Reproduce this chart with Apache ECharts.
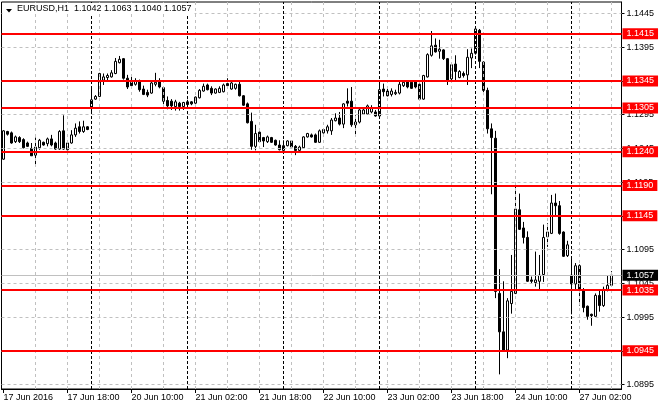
<!DOCTYPE html>
<html><head><meta charset="utf-8">
<script src="https://cdn.jsdelivr.net/npm/echarts@6.0.0/dist/echarts.min.js"></script>
<style>html,body{margin:0;padding:0;background:#fff}#c{width:660px;height:410px}</style>
</head><body><div id="c"></div>
<script>
const FONT = 'Liberation Sans';
const symbolName = 'EURUSD,H1';
const dayNames = ['17 Jun', '20 Jun', '21 Jun', '22 Jun', '23 Jun', '24 Jun', '27 Jun'];
const firstHour = [2, 0, 0, 0, 0, 0, 0];
// each bar: [open, high, low, close]
const day17 = [
 [1.1229,1.1272,1.1228,1.1271],[1.1270,1.1271,1.1264,1.1266],[1.1268,1.1270,1.1252,1.1253],[1.1255,1.1264,1.1253,1.1262],
 [1.1261,1.1263,1.1253,1.1255],[1.1258,1.1260,1.1245,1.1246],[1.1253,1.1255,1.1247,1.1248],[1.1245,1.1253,1.1234,1.1234],
 [1.1235,1.1261,1.1221,1.1247],[1.1246,1.1259,1.1243,1.1257],[1.1254,1.1255,1.1249,1.1250],[1.1252,1.1261,1.1248,1.1259],
 [1.1259,1.1265,1.1248,1.1250],[1.1253,1.1255,1.1243,1.1244],[1.1244,1.1272,1.1243,1.1270],[1.1271,1.1294,1.1243,1.1244],
 [1.1243,1.1255,1.1242,1.1253],[1.1253,1.1272,1.1252,1.1265],[1.1265,1.1282,1.1262,1.1275],[1.1277,1.1285,1.1267,1.1270],
 [1.1270,1.1286,1.1268,1.1277],[1.1277,1.1278,1.1272,1.1273]
];
const day20 = [
 [1.1306,1.1337,1.1300,1.1317],[1.1318,1.1324,1.1317,1.1322],[1.1322,1.1357,1.1321,1.1356],[1.1346,1.1356,1.1339,1.1351],
 [1.1350,1.1356,1.1346,1.1353],[1.1351,1.1361,1.1350,1.1357],[1.1356,1.1379,1.1355,1.1374],[1.1372,1.1382,1.1371,1.1377],
 [1.1378,1.1379,1.1347,1.1349],[1.1349,1.1354,1.1333,1.1336],[1.1343,1.1354,1.1336,1.1338],[1.1340,1.1349,1.1338,1.1345],
 [1.1344,1.1347,1.1329,1.1332],[1.1333,1.1338,1.1324,1.1325],[1.1328,1.1332,1.1321,1.1324],[1.1327,1.1344,1.1326,1.1342],
 [1.1340,1.1357,1.1337,1.1343],[1.1345,1.1349,1.1334,1.1336],[1.1335,1.1337,1.1307,1.1315],[1.1316,1.1322,1.1303,1.1308],
 [1.1315,1.1318,1.1302,1.1308],[1.1307,1.1317,1.1301,1.1314],[1.1312,1.1314,1.1301,1.1307],[1.1307,1.1314,1.1302,1.1313]
];
const day21 = [
 [1.1314,1.1317,1.1304,1.1310],[1.1314,1.1315,1.1309,1.1311],[1.1312,1.1322,1.1311,1.1321],[1.1320,1.1333,1.1319,1.1331],
 [1.1330,1.1341,1.1329,1.1337],[1.1339,1.1341,1.1331,1.1332],[1.1334,1.1337,1.1324,1.1327],[1.1327,1.1334,1.1326,1.1333],
 [1.1328,1.1337,1.1327,1.1334],[1.1329,1.1341,1.1328,1.1339],[1.1341,1.1349,1.1337,1.1338],[1.1333,1.1344,1.1332,1.1342],
 [1.1334,1.1341,1.1332,1.1340],[1.1340,1.1344,1.1322,1.1323],[1.1323,1.1324,1.1308,1.1309],[1.1311,1.1313,1.1282,1.1283],
 [1.1285,1.1298,1.1243,1.1248],[1.1248,1.1280,1.1242,1.1267],[1.1269,1.1270,1.1254,1.1255],[1.1261,1.1262,1.1247,1.1256],
 [1.1255,1.1264,1.1253,1.1262],[1.1261,1.1262,1.1253,1.1254],[1.1257,1.1258,1.1249,1.1250],[1.1250,1.1257,1.1242,1.1243]
];
const day22 = [
 [1.1242,1.1257,1.1240,1.1249],[1.1249,1.1257,1.1248,1.1256],[1.1256,1.1257,1.1245,1.1247],[1.1248,1.1250,1.1235,1.1242],
 [1.1242,1.1249,1.1240,1.1247],[1.1246,1.1263,1.1245,1.1262],[1.1262,1.1268,1.1261,1.1267],[1.1265,1.1267,1.1261,1.1262],
 [1.1265,1.1267,1.1253,1.1254],[1.1254,1.1273,1.1253,1.1271],[1.1268,1.1275,1.1267,1.1273],[1.1271,1.1280,1.1267,1.1277],
 [1.1271,1.1290,1.1265,1.1287],[1.1286,1.1297,1.1285,1.1290],[1.1290,1.1299,1.1279,1.1281],[1.1281,1.1312,1.1275,1.1311],
 [1.1315,1.1334,1.1307,1.1312],[1.1315,1.1336,1.1277,1.1280],[1.1284,1.1294,1.1266,1.1280],[1.1284,1.1304,1.1282,1.1302],
 [1.1296,1.1305,1.1295,1.1302],[1.1296,1.1310,1.1295,1.1308],[1.1299,1.1309,1.1297,1.1304],[1.1299,1.1302,1.1292,1.1293]
];
const day23 = [
 [1.1293,1.1344,1.1292,1.1332],[1.1333,1.1341,1.1322,1.1329],[1.1330,1.1336,1.1322,1.1323],[1.1325,1.1334,1.1322,1.1330],
 [1.1326,1.1332,1.1324,1.1328],[1.1327,1.1346,1.1325,1.1340],[1.1338,1.1345,1.1336,1.1343],[1.1344,1.1345,1.1334,1.1336],
 [1.1343,1.1346,1.1333,1.1334],[1.1345,1.1346,1.1334,1.1336],[1.1340,1.1341,1.1317,1.1318],[1.1318,1.1354,1.1317,1.1353],
 [1.1351,1.1386,1.1350,1.1384],[1.1383,1.1419,1.1381,1.1397],[1.1398,1.1408,1.1387,1.1388],[1.1389,1.1406,1.1378,1.1392],
 [1.1391,1.1392,1.1376,1.1378],[1.1378,1.1379,1.1339,1.1346],[1.1348,1.1370,1.1346,1.1369],[1.1370,1.1383,1.1346,1.1359],
 [1.1350,1.1361,1.1349,1.1359],[1.1356,1.1359,1.1350,1.1353],[1.1354,1.1392,1.1339,1.1380],[1.1379,1.1393,1.1364,1.1386]
];
const day24 = [
 [1.1386,1.1425,1.1384,1.1422],[1.1420,1.1422,1.1364,1.1374],[1.1373,1.1374,1.1324,1.1331],[1.1331,1.1335,1.1267,1.1274],
 [1.1274,1.1282,1.1177,1.1261],[1.1260,1.1271,1.1023,1.1033],[1.1030,1.1066,1.0910,1.0973],[1.0973,1.1048,1.0945,1.0946],
 [1.0946,1.1023,1.0934,1.1019],[1.1015,1.1087,1.1000,1.1033],[1.1030,1.1188,1.1029,1.1155],[1.1154,1.1178,1.1124,1.1125],
 [1.1127,1.1136,1.1104,1.1113],[1.1113,1.1122,1.1047,1.1048],[1.1050,1.1055,1.1045,1.1048],[1.1046,1.1092,1.1040,1.1050],
 [1.1048,1.1087,1.1035,1.1057],[1.1058,1.1132,1.1047,1.1113],[1.1114,1.1134,1.1099,1.1121],[1.1119,1.1176,1.1118,1.1164],
 [1.1164,1.1178,1.1146,1.1160],[1.1160,1.1167,1.1117,1.1119],[1.1121,1.1122,1.1084,1.1085],[1.1086,1.1108,1.1084,1.1102]
];
const day27 = [
 [1.1057,1.1082,1.0999,1.1044],[1.1044,1.1075,1.1035,1.1071],[1.1071,1.1073,1.1012,1.1035],[1.1035,1.1038,1.1002,1.1009],
 [1.1011,1.1012,1.0991,1.0996],[1.0999,1.1000,1.0982,1.0997],[1.0996,1.1030,1.0995,1.1027],[1.1027,1.1036,1.1003,1.1012],
 [1.1012,1.1040,1.1010,1.1036],[1.1036,1.1056,1.1033,1.1042],[1.1042,1.1063,1.1040,1.1057]
];
const padCats = ['27 Jun 11:00', '27 Jun 12:00'];
const xTickCats = ['17 Jun 02:00','17 Jun 18:00','20 Jun 10:00','21 Jun 02:00','21 Jun 18:00','22 Jun 10:00','23 Jun 02:00','23 Jun 18:00','24 Jun 10:00','27 Jun 02:00'];
const xTickText = ['17 Jun 2016','17 Jun 18:00','20 Jun 10:00','21 Jun 02:00','21 Jun 18:00','22 Jun 10:00','23 Jun 02:00','23 Jun 18:00','24 Jun 10:00','27 Jun 02:00'];
const yTicks = [1.0895,1.0945,1.0995,1.1045,1.1095,1.1145,1.1195,1.1245,1.1295,1.1345,1.1395,1.1445];
const levels = [1.1415,1.1345,1.1305,1.1240,1.1190,1.1145,1.1035,1.0945];
const yMin = 1.08883, yMax = 1.14620;

const dayBars = [day17, day20, day21, day22, day23, day24, day27];
const cats = [], candles = [];
dayBars.forEach((bars, d) => bars.forEach((b, k) => {
  cats.push(dayNames[d] + ' ' + String(firstHour[d] + k).padStart(2, '0') + ':00');
  candles.push([b[0], b[3], b[2], b[1]]);
}));
const allCats = cats.concat(padCats);
const last = day27[day27.length - 1];
const vGrid = cats.filter((c, i) => i > 0 && i % 8 === 0);
const seps = cats.filter(c => c.endsWith(' 00:00'));

const gridLines = [];
yTicks.forEach(v => gridLines.push({yAxis: v, lineStyle: {color: '#c0c0c0', type: [3, 3], width: 1}}));
vGrid.forEach(c => gridLines.push({xAxis: c, lineStyle: {color: '#c0c0c0', type: [3, 3], width: 1}}));
seps.forEach(c => gridLines.push({xAxis: c, lineStyle: {color: '#000', type: [3, 2], width: 1}}));
gridLines.push({yAxis: last[3], lineStyle: {color: '#c0c0c0', type: 'solid', width: 1},
  label: {show: true, position: 'end', distance: 1, formatter: p => p.value.toFixed(4), color: '#fff',
    backgroundColor: '#000', padding: [1, 4, 1, 4], fontSize: 9, lineHeight: 9, fontFamily: FONT}});

const chart = echarts.init(document.getElementById('c'), null, {renderer: 'canvas'});
chart.setOption({
  animation: false,
  backgroundColor: '#fff',
  textStyle: {fontFamily: FONT},
  title: {text: symbolName + '  ' + last.map(v => v.toFixed(4)).join(' '), left: 2.5, top: 3, padding: [1, 3, 1, 14.5],
    backgroundColor: '#fff', z: 20,
    textStyle: {fontSize: 9, lineHeight: 9, fontWeight: 'normal', color: '#000', fontFamily: FONT}},
  graphic: [{type: 'polygon', z: 100, shape: {points: [[6, 9], [12, 9], [9, 12.5]]}, style: {fill: '#000'}}],
  grid: {left: 1.5, right: 38.5, top: 2, bottom: 21, show: true, borderColor: '#000', borderWidth: 1, backgroundColor: '#fff'},
  xAxis: {
    type: 'category', data: allCats, boundaryGap: true,
    axisLine: {lineStyle: {color: '#000', width: 1}},
    axisTick: {show: true, alignWithLabel: true, length: 4, interval: (i, v) => xTickCats.includes(v), lineStyle: {color: '#000'}},
    axisLabel: {interval: (i, v) => xTickCats.includes(v), formatter: v => xTickText[xTickCats.indexOf(v)],
      align: 'left', margin: 4, color: '#000', fontSize: 9, fontFamily: FONT},
    splitLine: {show: false}
  },
  yAxis: {
    type: 'value', position: 'right', min: yMin, max: yMax, scale: true,
    axisLine: {show: true, lineStyle: {color: '#000', width: 1}},
    axisTick: {show: true, length: 3, customValues: yTicks, lineStyle: {color: '#000'}},
    axisLabel: {customValues: yTicks, formatter: v => v.toFixed(4), margin: 5, color: '#000', fontSize: 9, fontFamily: FONT},
    splitLine: {show: false}
  },
  series: [
    {type: 'line', data: [], z: 1, silent: true,
     markLine: {silent: true, precision: 5, symbol: ['none', 'none'], animation: false, emphasis: {disabled: true},
       label: {show: false}, data: gridLines}},
    {type: 'candlestick', data: candles, z: 2, barWidth: 3, silent: true,
     itemStyle: {color: '#fff', color0: '#000', borderColor: '#000', borderColor0: '#000', borderWidth: 1}},
    {type: 'line', data: [], z: 3, silent: true,
     markLine: {silent: true, precision: 5, symbol: ['none', 'none'], animation: false, emphasis: {disabled: true},
       lineStyle: {color: '#ff0000', type: 'solid', width: 2},
       label: {show: true, position: 'end', distance: 1, formatter: p => p.value.toFixed(4), color: '#fff',
         backgroundColor: '#ff0000', padding: [1, 4, 1, 4], fontSize: 9, lineHeight: 9, fontFamily: FONT},
       data: levels.map(v => ({yAxis: v}))}}
  ]
});
</script></body></html>
